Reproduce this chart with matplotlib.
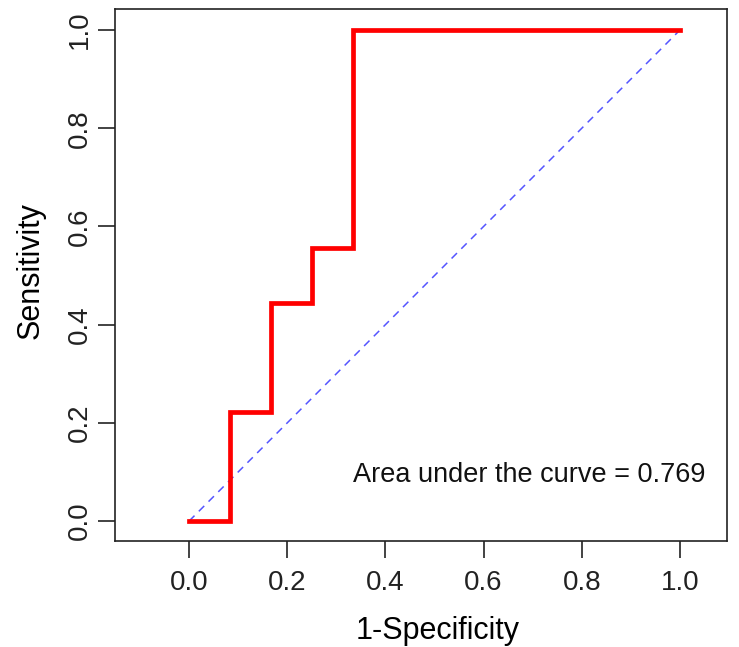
import matplotlib
matplotlib.use("Agg")
from matplotlib import pyplot as plt

# ROC curve steps (1-specificity, sensitivity)
fpr = [0.0, 0.083, 0.083, 0.167, 0.167, 0.25, 0.25, 0.333, 0.333, 1.0]
tpr = [0.0, 0.0, 0.222, 0.222, 0.444, 0.444, 0.556, 0.556, 1.0, 1.0]
ticks = [0.0, 0.2, 0.4, 0.6, 0.8, 1.0]
auc_label = "Area under the curve = 0.769"

plt.rcParams['font.family'] = ['Liberation Sans', 'DejaVu Sans']

fig = plt.figure(figsize=(7.39, 6.47), dpi=100)
ax = fig.add_axes([0.1556, 0.1638, 0.8282, 0.8222])

ax.plot([0, 1], [0, 1], color="#5555ff", linestyle=(0, (5, 4)), linewidth=1.1)
ax.plot(fpr, tpr, color="#ff0000", linewidth=3.4, solid_joinstyle="miter")

ax.set_xlim(-0.151, 1.096)
ax.set_ylim(-0.0407, 1.0428)
ax.set_xticks(ticks)
ax.set_yticks(ticks)
ax.set_xticklabels([f"{t:.1f}" for t in ticks])
ax.set_yticklabels([f"{t:.1f}" for t in ticks], rotation=90, va="center")
ax.tick_params(direction="out", length=12, width=1.2, labelsize=20, colors="#222222")
ax.tick_params(axis="x", pad=9)
ax.tick_params(axis="y", pad=4)
for s in ax.spines.values():
    s.set_linewidth(1.2)
    s.set_color("#222222")

ax.set_xlabel("1-Specificity", fontsize=22, labelpad=14)
ax.set_ylabel("Sensitivity", fontsize=22, labelpad=15)
ax.xaxis.label.set_x(0.527)
ax.yaxis.label.set_y(0.509)
ax.text(0.333, 0.0794, auc_label, fontsize=19.5, ha="left", va="baseline",
        transform=ax.transData, color="#111111")

fig.savefig("out.png", dpi=100)
